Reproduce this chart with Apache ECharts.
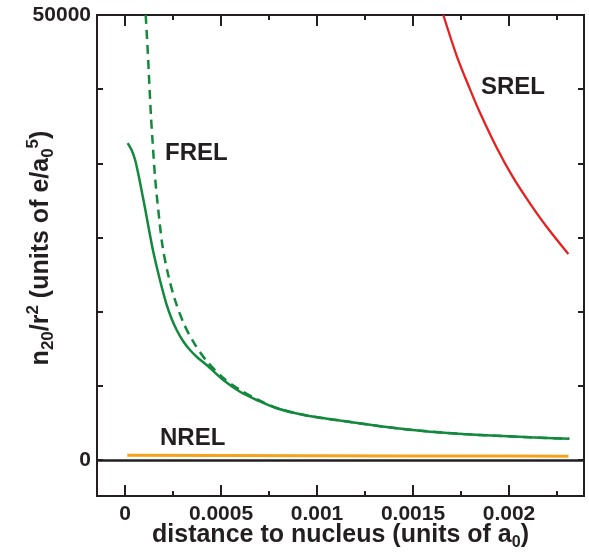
<!DOCTYPE html>
<html>
<head>
<meta charset="utf-8">
<script src="https://cdn.jsdelivr.net/npm/echarts@6/dist/echarts.min.js"></script>
<style>
  html, body { margin: 0; padding: 0; background: #fff; }
  #chart { width: 589px; height: 556px; }
</style>
</head>
<body>
<div id="chart"></div>
<script>
// FREL (solid): distance vs n20/r^2
var frelX = [0.0000141, 0.0000349, 0.0000521, 0.0000693, 0.0000859, 0.0001042, 0.0001224, 0.0001432, 0.0001667, 0.0001927,
  0.0002172, 0.0002422, 0.0002693, 0.0003021, 0.0003385, 0.0003802, 0.0004255, 0.000512, 0.000599, 0.000686,
  0.00079, 0.000946, 0.00112, 0.001241, 0.001415, 0.001589, 0.001762, 0.001936, 0.002109, 0.002314];
var frelY = [35600, 34800, 33760, 32130, 30340, 28310, 26180, 23820, 21570, 19330,
  17420, 15900, 14610, 13370, 12360, 11460, 10670, 8990, 7670, 6740,
  5810, 5000, 4440, 4070, 3560, 3180, 2920, 2730, 2550, 2390];

// FREL approximation (dashed)
var frelDashX = [0.0001078, 0.0001182, 0.0001266, 0.0001354, 0.0001443, 0.0001563, 0.0001734, 0.0001953, 0.000224, 0.0002604,
  0.0003073, 0.0003594, 0.0004255, 0.000512, 0.000599, 0.000686, 0.00079, 0.000946, 0.00112, 0.001415,
  0.001762, 0.002109, 0.002314];
var frelDashY = [50000, 46070, 42330, 38570, 35590, 31830, 28090, 24050, 20900, 17980,
  15280, 13150, 11120, 9210, 7870, 6850, 5840, 5000, 4440, 3560,
  2920, 2550, 2390];

// SREL
var srelX = [0.001658, 0.001728, 0.001797, 0.001849, 0.001936, 0.002022, 0.002109, 0.002196, 0.002309];
var srelY = [50000, 45390, 41650, 39020, 35090, 31720, 28840, 26210, 23150];

// NREL
var nrelX = [0.000012, 0.0005, 0.001, 0.0015, 0.002, 0.00231];
var nrelY = [520, 500, 480, 460, 440, 430];

// x tick positions
var xMajorTicks = [0, 0.0005, 0.001, 0.0015, 0.002];
var xMinorTicks = [0.00025, 0.00075, 0.00125, 0.00175, 0.00225];

var xTickInterval = 0.0005;
var yTickInterval = 50000 / 6;
var yMin = -4045, yMax = 50000;

function pairs(xs, ys) {
  return xs.map(function (x, i) { return [x, ys[i]]; });
}

var ink = '#231f20';
var font = 'Liberation Sans, Arial, Helvetica, sans-serif';
var green = '#13893e';

var chart = echarts.init(document.getElementById('chart'));

var tickLine = { color: ink, width: 2 };
var noLine = { show: false, onZero: false };

// tick marks along the bottom and top frame, lengths given in pixels
var unitsPerPx = (yMax - yMin) / 481;
function tickSegments(values, lenPx) {
  var d = lenPx * unitsPerPx, out = [];
  values.forEach(function (v) {
    out.push([{ coord: [v, yMin] }, { coord: [v, yMin + d], lineStyle: tickLine }]);
    out.push([{ coord: [v, yMax] }, { coord: [v, yMax - d], lineStyle: tickLine }]);
  });
  return out;
}

var option = {
  animation: false,
  grid: [
    // data area
    { left: 97, top: 15, width: 487, height: 481, show: true, backgroundColor: 'transparent',
      borderColor: ink, borderWidth: 2, outerBoundsMode: 'none' },
    // x labels 0 .. 0.0025 (right end runs past the frame)
    { left: 125, top: 15, width: 480, height: 481, outerBoundsMode: 'none' },
    // y ticks 0 .. 50000
    { left: 97, top: 15, width: 487, height: 445, outerBoundsMode: 'none' }
  ],
  xAxis: [
    {
      gridIndex: 0, type: 'value', min: -0.0001458, max: 0.0023906,
      axisLine: noLine, axisTick: { show: false }, axisLabel: { show: false }, splitLine: { show: false },
      name: '{b|distance to nucleus (units of a}{sub|0}{b|)}',
      nameLocation: 'middle', nameGap: 23, nameMoveOverlap: false,
      nameTextStyle: {
        rich: {
          b: { fontFamily: font, fontWeight: 'bold', fontSize: 25, color: ink, lineHeight: 32, verticalAlign: 'middle' },
          sub: { fontFamily: font, fontWeight: 'bold', fontSize: 16, color: ink, lineHeight: 16, verticalAlign: 'bottom' }
        }
      }
    },
    {
      gridIndex: 1, type: 'value', position: 'bottom', min: 0, max: 0.0025, interval: xTickInterval,
      axisLine: noLine, axisTick: { show: false }, splitLine: { show: false },
      axisLabel: {
        margin: 8, showMaxLabel: false, fontFamily: font, fontWeight: 'bold', fontSize: 21, color: ink,
        formatter: function (v) { return String(+v.toFixed(4)); }
      }
    },
    { gridIndex: 2, type: 'value', show: false, min: 0, max: 1, splitLine: { show: false } }
  ],
  yAxis: [
    {
      gridIndex: 0, type: 'value', min: yMin, max: yMax,
      axisLine: noLine, axisTick: { show: false }, axisLabel: { show: false }, splitLine: { show: false }
    },
    { gridIndex: 1, type: 'value', show: false, min: 0, max: 1, splitLine: { show: false } },
    {
      gridIndex: 2, type: 'value', position: 'left', min: 0, max: 50000, interval: yTickInterval,
      axisLine: noLine,
      axisTick: { show: true, inside: true, length: 6, lineStyle: tickLine },
      splitLine: { show: false },
      axisLabel: {
        margin: 6, fontFamily: font, fontWeight: 'bold', fontSize: 21, color: ink,
        formatter: function (v) {
          if (Math.abs(v) < 1) return '0';
          if (Math.abs(v - 50000) < 1) return '50000';
          return '';
        }
      },
      name: '{b|n}{sub|20}{b|/r}{sup|2}{b| (units of e/a}{sub|0}{sup|5}{b|)}',
      nameLocation: 'middle', nameRotate: 90, nameGap: 40, nameMoveOverlap: false,
      nameTextStyle: {
        padding: [0, 21, 0, 0],
        rich: {
          b: { fontFamily: font, fontWeight: 'bold', fontSize: 25, color: ink, lineHeight: 32, verticalAlign: 'middle' },
          sub: { fontFamily: font, fontWeight: 'bold', fontSize: 17, color: ink, lineHeight: 17, verticalAlign: 'bottom' },
          sup: { fontFamily: font, fontWeight: 'bold', fontSize: 17, color: ink, lineHeight: 17, verticalAlign: 'top' }
        }
      }
    },
    {
      gridIndex: 2, type: 'value', position: 'right', min: 0, max: 50000, interval: yTickInterval,
      axisLine: noLine,
      axisTick: { show: true, inside: true, length: 6, lineStyle: tickLine },
      splitLine: { show: false }, axisLabel: { show: false }
    }
  ],
  graphic: [
    { type: 'text', left: 165, top: 141, style: { text: 'FREL', fontFamily: font, fontWeight: 'bold', fontSize: 24, fill: ink } },
    { type: 'text', left: 481, top: 75, style: { text: 'SREL', fontFamily: font, fontWeight: 'bold', fontSize: 24, fill: ink } },
    { type: 'text', left: 160, top: 426, style: { text: 'NREL', fontFamily: font, fontWeight: 'bold', fontSize: 24, fill: ink } }
  ],
  series: [
    {
      name: 'NREL', type: 'line', xAxisIndex: 0, yAxisIndex: 0, data: pairs(nrelX, nrelY),
      showSymbol: false, lineStyle: { color: '#f6a31b', width: 3 },
      markLine: {
        silent: true, symbol: 'none', label: { show: false },
        lineStyle: { color: ink, width: 2.5, type: 'solid' },
        data: [{ yAxis: 0 }]
          .concat(tickSegments(xMajorTicks, 11))
          .concat(tickSegments(xMinorTicks, 5))
      }
    },
    {
      name: 'FREL approx', type: 'line', xAxisIndex: 0, yAxisIndex: 0, data: pairs(frelDashX, frelDashY),
      showSymbol: false, smooth: 0.3, lineStyle: { color: green, width: 2.5, type: [9, 6] }
    },
    {
      name: 'FREL', type: 'line', xAxisIndex: 0, yAxisIndex: 0, data: pairs(frelX, frelY),
      showSymbol: false, smooth: 0.3, lineStyle: { color: green, width: 2.5 }
    },
    {
      name: 'SREL', type: 'line', xAxisIndex: 0, yAxisIndex: 0, data: pairs(srelX, srelY),
      showSymbol: false, smooth: 0.3, lineStyle: { color: '#e8201f', width: 2.3 }
    }
  ]
};

chart.setOption(option);
</script>
</body>
</html>
